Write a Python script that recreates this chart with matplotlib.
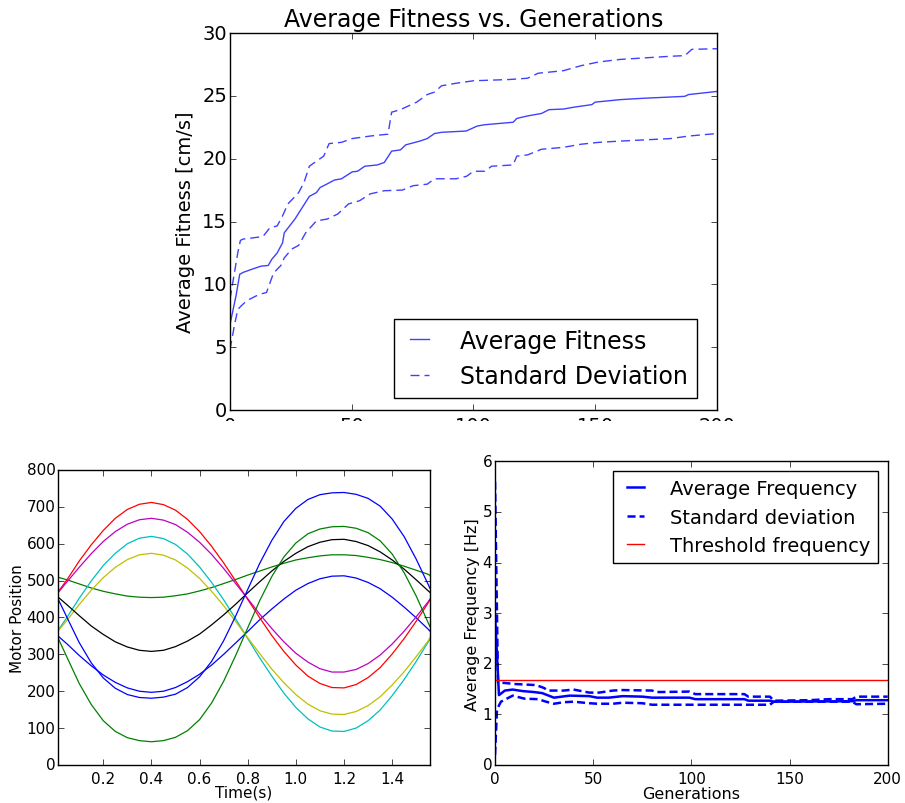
"""Fitness, motor position and frequency panels (classic matplotlib look)."""

import matplotlib

matplotlib.use("Agg")
import matplotlib.pyplot as plt
from matplotlib.patches import Rectangle

# --- top panel: average fitness vs generations --------------------------------
fit_gen = [0, 2.5, 4, 5.4, 9, 12.8, 15.7, 17.2, 19.4, 21.6, 22.3, 26.7, 32.6,
           35.5, 37, 40, 42.9, 45.8, 50.2, 52.4, 55.4, 60.5, 63.4, 66.4, 70,
           72.2, 78, 81, 84, 87, 97, 101.6, 104.6, 116.3, 117.8, 122.2, 128,
           131, 137, 141.3, 148.6, 150, 160.4, 169.2, 186.8, 188.3, 200]
fit_mean = [6.8, 9.1, 10.8, 10.95, 11.2, 11.45, 11.5, 12.0, 12.5, 13.3, 14.1,
            15.2, 17.0, 17.3, 17.7, 18.0, 18.3, 18.4, 18.95, 19.0, 19.4, 19.5,
            19.7, 20.6, 20.7, 21.1, 21.4, 21.6, 22.0, 22.1, 22.2, 22.6, 22.7,
            22.9, 23.2, 23.4, 23.6, 23.9, 23.95, 24.1, 24.3, 24.5, 24.7, 24.8,
            24.96, 25.1, 25.35]

fit_hi_gen = [0, 3.2, 4.3, 5.4, 13.5, 16.4, 19.4, 21.6, 23.8, 28.2, 30.4, 32.6,
              35.5, 38.5, 40.7, 45.8, 50.2, 57.6, 64.9, 66.4, 70, 76.7, 81, 84,
              86.9, 92.8, 100, 114.8, 122.2, 126.6, 136.9, 144.2, 151.5, 160.4,
              181, 186.8, 189.7, 200]
fit_hi = [8.8, 12.5, 13.5, 13.6, 13.8, 14.5, 14.65, 15.45, 16.4, 17.3, 18.1,
          19.4, 19.8, 20.2, 21.2, 21.3, 21.6, 21.8, 21.95, 23.7, 23.9, 24.5,
          25.1, 25.3, 25.8, 26.0, 26.2, 26.3, 26.4, 26.8, 27.0, 27.4, 27.7,
          27.9, 28.15, 28.2, 28.7, 28.75]

fit_lo_gen = [0, 1.8, 3.2, 4.7, 6.9, 12, 15, 17.9, 20.9, 22.3, 25.3, 28.2, 31.1,
              35.5, 40, 44.3, 48.7, 53.2, 57.6, 63.4, 70.8, 75.2, 81, 84, 92.8,
              97.2, 100, 104.6, 107.5, 116.3, 117.8, 122.2, 128, 136.9, 144.2,
              151.5, 160.4, 181, 188.3, 200]
fit_lo = [4.8, 6.7, 8.0, 8.3, 8.7, 9.2, 9.35, 10.9, 11.5, 12.1, 12.8, 13.1,
          14.1, 15.05, 15.2, 15.6, 16.4, 16.65, 17.2, 17.45, 17.5, 17.85, 17.97,
          18.4, 18.4, 18.6, 19.0, 19.0, 19.4, 19.5, 20.2, 20.3, 20.75, 20.9,
          21.15, 21.3, 21.4, 21.6, 21.8, 22.0]

# --- bottom left: motor positions over one gait cycle --------------------------
time_s = [0.0131, 0.05, 0.10, 0.15, 0.20, 0.25, 0.30, 0.35, 0.40, 0.45, 0.50,
          0.55, 0.60, 0.65, 0.70, 0.75, 0.80, 0.85, 0.90, 0.95, 1.00, 1.05,
          1.10, 1.15, 1.20, 1.25, 1.30, 1.35, 1.40, 1.45, 1.50, 1.55, 1.557]
motor_positions = [
    # blue (small swing)
    [349, 328, 297, 269, 244, 224, 209, 200, 197, 200, 210, 226, 246, 271, 300,
     331, 362, 394, 423, 450, 474, 492, 505, 512, 513, 507, 495, 478, 455, 428,
     399, 368, 363],
    # green (flat)
    [509, 502, 491, 480, 471, 464, 458, 455, 454, 455, 459, 464, 472, 481, 492,
     503, 515, 526, 537, 547, 556, 562, 567, 570, 570, 568, 563, 557, 549, 539,
     528, 517, 514],
    # red
    [470, 503, 553, 597, 636, 669, 693, 707, 712, 706, 691, 666, 633, 593, 548,
     499, 449, 399, 351, 308, 271, 241, 221, 210, 209, 218, 237, 264, 301, 343,
     390, 440, 448],
    # cyan
    [366, 401, 452, 499, 541, 574, 600, 615, 620, 614, 598, 572, 537, 495, 448,
     396, 343, 290, 241, 195, 156, 125, 103, 92, 91, 100, 120, 149, 188, 232,
     281, 334, 341],
    # magenta
    [468, 497, 536, 573, 606, 633, 653, 665, 669, 664, 652, 631, 604, 571, 533,
     492, 451, 409, 370, 334, 303, 279, 261, 252, 252, 259, 275, 298, 328, 363,
     402, 443, 450],
    # yellow
    [364, 393, 435, 474, 508, 536, 557, 570, 574, 569, 556, 534, 506, 471, 432,
     389, 345, 302, 260, 223, 191, 165, 147, 138, 137, 145, 161, 185, 217, 253,
     294, 337, 345],
    # black
    [455, 434, 405, 377, 354, 334, 320, 311, 308, 311, 321, 336, 355, 380, 407,
     436, 467, 497, 526, 552, 574, 592, 604, 611, 612, 606, 595, 578, 556, 531,
     502, 472, 468],
    # blue (large swing)
    [449, 399, 332, 277, 236, 208, 191, 183, 181, 184, 192, 210, 239, 281, 337,
     404, 476, 547, 609, 660, 696, 720, 733, 738, 739, 734, 723, 702, 667, 619,
     558, 489, 479],
    # green (large swing)
    [343, 291, 221, 164, 120, 91, 74, 66, 63, 66, 75, 93, 123, 168, 227, 297,
     372, 446, 511, 564, 602, 627, 640, 646, 647, 642, 630, 608, 572, 521, 458,
     385, 375],
]

# --- bottom right: average frequency vs generations ----------------------------
freq_gen = [0, 2, 5, 9, 14, 20, 24, 30, 38, 48, 52, 58, 65, 75, 80, 99, 102,
            127, 129, 140, 142, 182, 184, 200]
freq_mean = [2.98, 1.38, 1.47, 1.49, 1.46, 1.44, 1.42, 1.33, 1.37, 1.36, 1.33,
             1.33, 1.36, 1.35, 1.33, 1.33, 1.30, 1.30, 1.27, 1.27, 1.25, 1.26,
             1.28, 1.28]
freq_hi_gen = [0, 1.5, 5, 10, 20, 23, 25, 27, 35, 40, 48, 53, 60, 65, 80, 82,
               99, 102, 127, 129, 140, 142, 160, 170, 182, 184, 200]
freq_hi = [5.6, 1.63, 1.62, 1.60, 1.58, 1.55, 1.52, 1.47, 1.47, 1.49, 1.43,
           1.43, 1.47, 1.48, 1.47, 1.44, 1.45, 1.40, 1.40, 1.35, 1.35, 1.27,
           1.28, 1.30, 1.30, 1.35, 1.35]
freq_lo_gen = [0, 1, 3, 9, 15, 22, 26, 30, 35, 40, 48, 52, 60, 65, 75, 80, 100,
               128, 140, 142, 182, 184, 200]
freq_lo = [0.2, 1.1, 1.25, 1.37, 1.31, 1.30, 1.25, 1.21, 1.24, 1.25, 1.22,
           1.21, 1.21, 1.23, 1.22, 1.19, 1.19, 1.19, 1.19, 1.25, 1.25, 1.20,
           1.21]
threshold_gen = [0, 200]
threshold_hz = [1.67, 1.67]


def main() -> None:
    plt.style.use("classic")
    plt.rcParams.update(
        {
            "figure.facecolor": "white",
            "savefig.facecolor": "white",
            "font.family": "DejaVu Sans",
            "ytick.major.pad": 2,
        }
    )
    fig = plt.figure(figsize=(9.05, 8.04), dpi=100)

    # top panel
    ax = fig.add_axes((0.2541, 0.4888, 0.5381, 0.4689))
    top = {"color": "b", "alpha": 0.75, "lw": 1.0}
    ax.plot(fit_gen, fit_mean, label="Average Fitness", **top)
    ax.plot(fit_hi_gen, fit_hi, dashes=(6.5, 3.6), label="Standard Deviation",
            **top)
    ax.plot(fit_lo_gen, fit_lo, dashes=(6.5, 3.6), **top)
    ax.set_xlim(0, 200)
    ax.set_ylim(0, 30)
    ax.set_xticks([0, 50, 100, 150, 200])
    ax.set_yticks(range(0, 31, 5))
    ax.tick_params(labelsize=14)
    ax.set_title("Average Fitness vs. Generations", fontsize=17)
    ax.set_ylabel("Average Fitness [cm/s]", fontsize=14)
    ax.legend(loc="lower right", bbox_to_anchor=(0.959, 0.032), fontsize=17,
              handlelength=1.4, handletextpad=1.0, borderaxespad=0.0)

    # the upper image is cut just below its tick labels
    fig.add_artist(Rectangle((0.16, 0.44), 0.66, 0.0355, transform=fig.transFigure,
                             facecolor="white", edgecolor="none", zorder=10))

    # bottom left panel
    ax = fig.add_axes((0.0644, 0.0473, 0.4107, 0.3669))
    for values in motor_positions:
        ax.plot(time_s, values, lw=0.9)
    ax.set_xlim(0.0131, 1.557)
    ax.set_ylim(0, 800)
    ax.set_xticks([0.2, 0.4, 0.6, 0.8, 1.0, 1.2, 1.4])
    ax.set_yticks(range(0, 801, 100))
    ax.tick_params(labelsize=11)
    ax.set_xlabel("Time(s)", fontsize=11, labelpad=-1)
    ax.set_ylabel("Motor Position", fontsize=11, labelpad=1)

    # bottom right panel
    ax = fig.add_axes((0.5470, 0.0473, 0.4339, 0.3777))
    ax.plot(freq_gen, freq_mean, color="b", lw=1.8, label="Average Frequency")
    ax.plot(freq_hi_gen, freq_hi, color="b", lw=1.8, dashes=(5.8, 2.9),
            label="Standard deviation")
    ax.plot(freq_lo_gen, freq_lo, color="b", lw=1.8, dashes=(5.8, 2.9))
    ax.plot(threshold_gen, threshold_hz, color="r", lw=1.0,
            label="Threshold frequency")
    ax.set_xlim(0, 200)
    ax.set_ylim(0, 6)
    ax.set_xticks([0, 50, 100, 150, 200])
    ax.set_yticks(range(0, 7))
    ax.tick_params(labelsize=11)
    ax.set_xlabel("Generations", fontsize=11.5, labelpad=0)
    ax.set_ylabel("Average Frequency [Hz]", fontsize=11.5, labelpad=2)
    ax.legend(loc="upper right", fontsize=14, handlelength=1.45,
              handletextpad=1.05)

    fig.savefig("out.png", dpi=100)
    plt.close(fig)


if __name__ == "__main__":
    main()
